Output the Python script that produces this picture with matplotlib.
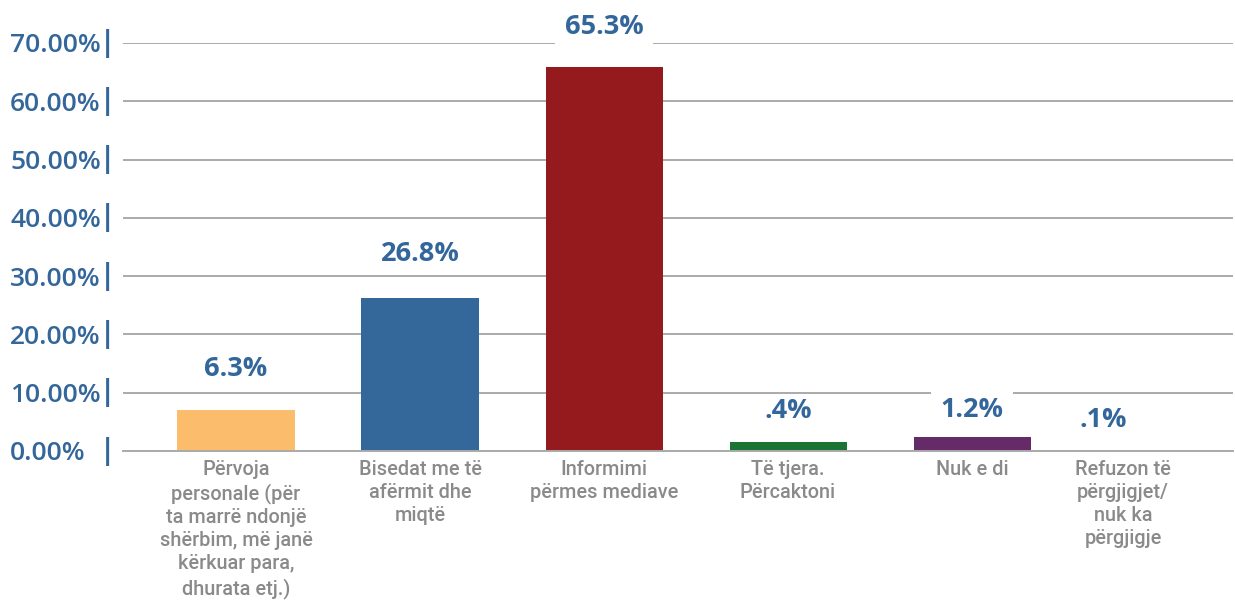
import matplotlib
matplotlib.use("Agg")
import matplotlib.pyplot as plt
from matplotlib.transforms import offset_copy

# ── Data ──────────────────────────────────────────────────────────────────────
CATEGORIES = [
    "Përvoja\npersonale (për\nta marrë ndonjë\nshërbim, më janë\nkërkuar para,\ndhurata etj.)",
    "Bisedat me të\nafërmit dhe\nmiqtë",
    "Informimi\npërmes mediave",
    "Të tjera.\nPërcaktoni",
    "Nuk e di",
    "Refuzon të\npërgjigjet/\nnuk ka\npërgjigje",
]
BAR_HEIGHTS = [7.0, 26.2, 65.8, 1.6, 2.4, 0.0]       # as drawn (% scale)
VALUE_LABELS = ["6.3%", "26.8%", "65.3%", ".4%", "1.2%", ".1%"]
Y_TICKS = [0, 10, 20, 30, 40, 50, 60, 70]
Y_TICK_LABELS = ["0.00%", "10.00%", "20.00%", "30.00%",
                 "40.00%", "50.00%", "60.00%", "70.00%"]

# ── Style ─────────────────────────────────────────────────────────────────────
BAR_COLOURS = ["#FBBC6B", "#35689A", "#941A1E", "#1B7532", "#652B68", "#35689A"]
LABEL_OFFSETS_PX = [41, 44, 40, 31, 27, 31]
LABEL_SHIFT_X_PX = [0, 0, 0, 0, 0, -53]     # last label sits left of its slot
TICK_SHIFT_X_PX = [0, 0, 0, 0, 0, -33]
LABEL_BOX_PAD = [0.15, 0.15, 0.35, 0.08, 0.35, 0.15]
BLUE = "#33669A"
GREY_TEXT = "#8A8A8A"
GRID = "#AAAAAA"

fig = plt.figure(figsize=(12.35, 6.08), dpi=100)
ax = fig.add_axes([123 / 1235, 1 - 451 / 608, 1110 / 1235, 408 / 608])

x = list(range(len(CATEGORIES)))
ax.bar(x, BAR_HEIGHTS, width=0.636, color=BAR_COLOURS, zorder=2)

ax.set_xlim(-0.614, 5.418)
ax.set_ylim(0, 70)

# grid + axes
ax.set_yticks(Y_TICKS)
ax.yaxis.grid(True, color=GRID, linewidth=1.4)
ax.set_axisbelow(True)
for s in ["top", "right", "left"]:
    ax.spines[s].set_visible(False)
ax.spines["bottom"].set_color(GRID)
ax.spines["bottom"].set_linewidth(1.4)
ax.spines["bottom"].set_zorder(3)

# y tick labels — left aligned at fixed x, with a "|" marker next to the axis
ax.set_yticklabels(Y_TICK_LABELS, fontfamily="Open Sans", fontweight="semibold",
                   fontsize=19, color=BLUE, ha="left")
ax.tick_params(axis="y", length=0, pad=113 * 0.72)
ytrans = ax.get_yaxis_transform()
for yt in Y_TICKS:
    ax.text(-15 / 1110, yt, "|", transform=ytrans, ha="center", va="center",
            fontfamily="Open Sans", fontweight="bold", fontsize=20,
            color=BLUE, clip_on=False)

# x category labels
ax.set_xticks(x)
ax.set_xticklabels([])
ax.tick_params(axis="x", length=0)
xtrans = ax.get_xaxis_transform()
for xi, cat, dx in zip(x, CATEGORIES, TICK_SHIFT_X_PX):
    tr = offset_copy(xtrans, fig=fig, x=dx, y=-9, units="dots")
    ax.text(xi, 0, cat, transform=tr, ha="center", va="top",
            fontfamily="Roboto", fontweight="medium", fontsize=14.3,
            color=GREY_TEXT, linespacing=1.27, clip_on=False)

# value labels
for xi, h, lab, off, dx, pad in zip(x, BAR_HEIGHTS, VALUE_LABELS,
                                    LABEL_OFFSETS_PX, LABEL_SHIFT_X_PX,
                                    LABEL_BOX_PAD):
    ax.annotate(lab, (xi, h), xytext=(dx * 0.72, off * 0.72),
                textcoords="offset points",
                ha="center", va="center", fontfamily="Open Sans",
                fontweight="bold", fontsize=19.5, color=BLUE, zorder=4,
                bbox=dict(boxstyle=f"square,pad={pad}", fc="white", ec="none"))

fig.savefig("out.png", dpi=100, facecolor="white")
